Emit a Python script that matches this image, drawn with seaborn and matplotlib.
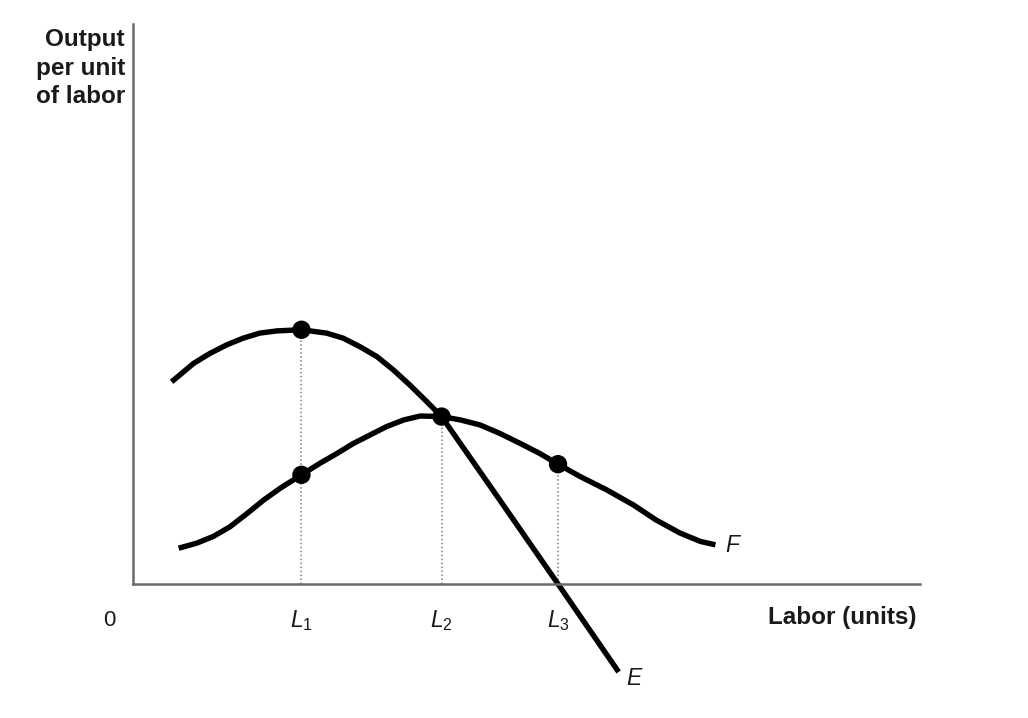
import numpy as np
import pandas as pd
import matplotlib
matplotlib.use("Agg")
import matplotlib.pyplot as plt
import seaborn as sns

sns.set_style("white")
plt.rcParams['font.family'] = ['Liberation Sans', 'DejaVu Sans']
plt.rcParams['text.color'] = '#1a1a1a'
plt.rcParams['xtick.color'] = '#1a1a1a'
plt.rcParams['mathtext.fontset'] = 'custom'
plt.rcParams['mathtext.rm'] = 'Liberation Sans'
plt.rcParams['mathtext.it'] = 'Liberation Sans:italic'

# Curve E (marginal product)
e_x = [0.49, 0.77, 0.98, 1.19, 1.40, 1.61, 1.83, 2.14, 2.46, 2.67, 2.88, 3.10,
       3.31, 3.52, 3.73, 3.92, 4.66, 5.40, 6.17]
e_y = [3.61, 3.94, 4.12, 4.27, 4.39, 4.48, 4.52, 4.54, 4.48, 4.39, 4.24, 4.06,
       3.82, 3.55, 3.26, 2.99, 1.50, 0.00, -1.57]

# Curve F (average product)
f_x = [0.58, 0.81, 1.02, 1.23, 1.45, 1.66, 1.87, 2.14, 2.38, 2.59, 2.80, 3.01,
       3.22, 3.44, 3.65, 3.92, 4.16, 4.41, 4.66, 4.92, 5.17, 5.40, 5.68, 6.02,
       6.36, 6.65, 6.95, 7.21, 7.40]
f_y = [0.64, 0.73, 0.85, 1.02, 1.26, 1.50, 1.71, 1.95, 2.16, 2.33, 2.51, 2.66,
       2.81, 2.93, 3.00, 2.99, 2.93, 2.84, 2.69, 2.51, 2.33, 2.14, 1.92, 1.68,
       1.41, 1.14, 0.91, 0.76, 0.70]

# labour levels and the marked points
levels = [2.14, 3.92, 5.40]
level_labels = [r'$L_{\mathrm{1}}$', r'$L_{\mathrm{2}}$', r'$L_{\mathrm{3}}$']
drop_tops = [4.54, 2.99, 2.14]
dot_x = [2.14, 2.14, 3.92, 5.40]
dot_y = [4.54, 1.95, 2.99, 2.14]

df_e = pd.DataFrame({'labor': e_x, 'output': e_y})
df_f = pd.DataFrame({'labor': f_x, 'output': f_y})
df_dots = pd.DataFrame({'labor': dot_x, 'output': dot_y})

fig = plt.figure(figsize=(10.28, 7.18), dpi=100)
ax = fig.add_axes([0.1294, 0.1866, 0.7656, 0.78])

# dotted guide lines
ax.vlines(levels, 0, drop_tops, colors='#7a7a7a', linestyles=(0, (1, 1.6)), linewidth=1.1)

sns.lineplot(data=df_e, x='labor', y='output', ax=ax, color='black', linewidth=3.9,
             clip_on=False, solid_capstyle='butt', solid_joinstyle='round')
sns.lineplot(data=df_f, x='labor', y='output', ax=ax, color='black', linewidth=3.9,
             clip_on=False, solid_capstyle='butt', solid_joinstyle='round')
sns.scatterplot(data=df_dots, x='labor', y='output', ax=ax, color='black', s=175,
                edgecolor='none', zorder=5, clip_on=False)

ax.set_xlim(0, 10)
ax.set_ylim(0, 10)

# curve labels
ax.text(e_x[-1] + 0.1, e_y[-1] - 0.12, 'E', fontsize=16.5, style='italic', ha='left', va='center')
ax.text(f_x[-1] + 0.13, f_y[-1] - 0.02, 'F', fontsize=16.5, style='italic', ha='left', va='center')

# axes
sns.despine(ax=ax)
for side in ['left', 'bottom']:
    ax.spines[side].set_color('#6a6a6a')
    ax.spines[side].set_linewidth(1.8)

ax.set_xticks(levels)
ax.set_xticklabels(level_labels, fontsize=16.5)
ax.tick_params(axis='x', length=0, pad=17)
ax.set_yticks([])
ax.set_xlabel('')
ax.set_ylabel('')

ax.text(-0.022, -0.066, '0', transform=ax.transAxes, fontsize=16, ha='right', va='center')
ax.text(0.996, -0.059, 'Labor (units)', transform=ax.transAxes, fontsize=17.5,
        fontweight='bold', ha='right', va='center')
ax.text(-0.0102, 0.992, 'Output\nper unit\nof labor', transform=ax.transAxes, fontsize=17.5,
        fontweight='bold', ha='right', va='top', linespacing=1.3)

fig.savefig('out.png', dpi=100)
